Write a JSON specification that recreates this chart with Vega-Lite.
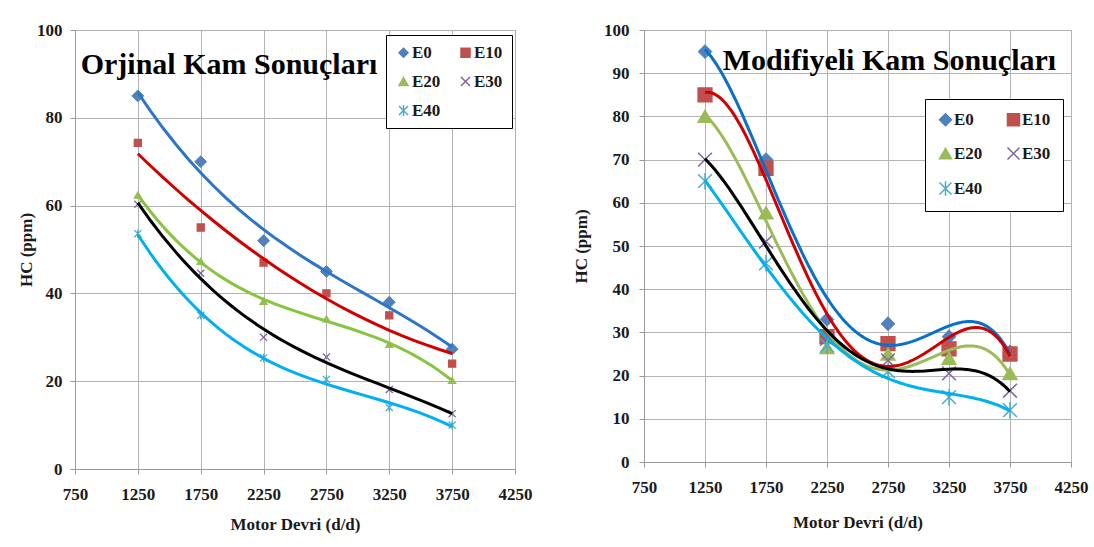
{
  "$schema": "https://vega.github.io/schema/vega-lite/v6.json",
  "background": "white",
  "padding": {"left": 17, "top": 20, "right": 5, "bottom": 5},
  "bounds": "flush",
  "spacing": 129,
  "resolve": {"scale": {"fill": "independent", "stroke": "independent", "shape": "independent"}, "legend": {"fill": "independent", "stroke": "independent", "shape": "independent"}},
  "datasets": {
    "orjinal": [
      {"s": "E0", "rpm": 1250, "hc": 85}, {"s": "E0", "rpm": 1750, "hc": 70}, {"s": "E0", "rpm": 2250, "hc": 52}, {"s": "E0", "rpm": 2750, "hc": 45}, {"s": "E0", "rpm": 3250, "hc": 38}, {"s": "E0", "rpm": 3750, "hc": 27.3},
      {"s": "E10", "rpm": 1250, "hc": 74.3}, {"s": "E10", "rpm": 1750, "hc": 55}, {"s": "E10", "rpm": 2250, "hc": 47}, {"s": "E10", "rpm": 2750, "hc": 40}, {"s": "E10", "rpm": 3250, "hc": 35}, {"s": "E10", "rpm": 3750, "hc": 24},
      {"s": "E20", "rpm": 1250, "hc": 62.4}, {"s": "E20", "rpm": 1750, "hc": 47.3}, {"s": "E20", "rpm": 2250, "hc": 38.2}, {"s": "E20", "rpm": 2750, "hc": 34.2}, {"s": "E20", "rpm": 3250, "hc": 28.4}, {"s": "E20", "rpm": 3750, "hc": 20.2},
      {"s": "E30", "rpm": 1250, "hc": 60.3}, {"s": "E30", "rpm": 1750, "hc": 44.6}, {"s": "E30", "rpm": 2250, "hc": 30}, {"s": "E30", "rpm": 2750, "hc": 25.5}, {"s": "E30", "rpm": 3250, "hc": 18.1}, {"s": "E30", "rpm": 3750, "hc": 12.6},
      {"s": "E40", "rpm": 1250, "hc": 53.6}, {"s": "E40", "rpm": 1750, "hc": 35}, {"s": "E40", "rpm": 2250, "hc": 25.3}, {"s": "E40", "rpm": 2750, "hc": 20.4}, {"s": "E40", "rpm": 3250, "hc": 14}, {"s": "E40", "rpm": 3750, "hc": 10}
    ],
    "modifiye": [
      {"s": "E0", "rpm": 1250, "hc": 95}, {"s": "E0", "rpm": 1750, "hc": 70}, {"s": "E0", "rpm": 2250, "hc": 33}, {"s": "E0", "rpm": 2750, "hc": 32}, {"s": "E0", "rpm": 3250, "hc": 29}, {"s": "E0", "rpm": 3750, "hc": 25.5},
      {"s": "E10", "rpm": 1250, "hc": 85}, {"s": "E10", "rpm": 1750, "hc": 68}, {"s": "E10", "rpm": 2250, "hc": 29}, {"s": "E10", "rpm": 2750, "hc": 27.4}, {"s": "E10", "rpm": 3250, "hc": 26.2}, {"s": "E10", "rpm": 3750, "hc": 25},
      {"s": "E20", "rpm": 1250, "hc": 80}, {"s": "E20", "rpm": 1750, "hc": 57.7}, {"s": "E20", "rpm": 2250, "hc": 26.5}, {"s": "E20", "rpm": 2750, "hc": 25}, {"s": "E20", "rpm": 3250, "hc": 24}, {"s": "E20", "rpm": 3750, "hc": 20.5},
      {"s": "E30", "rpm": 1250, "hc": 70}, {"s": "E30", "rpm": 1750, "hc": 51}, {"s": "E30", "rpm": 2250, "hc": 28.5}, {"s": "E30", "rpm": 2750, "hc": 23.5}, {"s": "E30", "rpm": 3250, "hc": 20.5}, {"s": "E30", "rpm": 3750, "hc": 16.5},
      {"s": "E40", "rpm": 1250, "hc": 65}, {"s": "E40", "rpm": 1750, "hc": 46}, {"s": "E40", "rpm": 2250, "hc": 27}, {"s": "E40", "rpm": 2750, "hc": 21}, {"s": "E40", "rpm": 3250, "hc": 15}, {"s": "E40", "rpm": 3750, "hc": 12}
    ],
    "title_left": [{"t": "Orjinal Kam Sonuçları", "rpm": 1975, "hc": 90}],
    "title_right": [{"t": "Modifiyeli Kam Sonuçları", "rpm": 2762, "hc": 90.7}]
  },
  "config": {
    "view": {"stroke": "#b3b3b3", "strokeWidth": 1},
    "axis": {
      "labelFont": "Liberation Serif", "labelFontWeight": "bold", "labelFontSize": 17, "labelColor": "#1a1a1a", "labelFlush": false,
      "titleFont": "Liberation Serif", "titleFontWeight": "bold", "titleFontSize": 17, "titleColor": "#1a1a1a",
      "gridColor": "#b3b3b3", "gridOpacity": 1, "gridWidth": 1,
      "domainColor": "#9a9a9a", "tickColor": "#9a9a9a", "tickSize": 5
    },
    "legend": {
      "orient": "none", "columns": 2, "direction": "horizontal", "title": null, "strokeColor": "black", "fillColor": "white",
      "labelFont": "Liberation Serif", "labelFontWeight": "bold", "labelFontSize": 17, "labelColor": "#1a1a1a",
      "symbolStrokeWidth": 1.5, "labelOffset": 0
    }
  },
  "hconcat": [
    {
      "width": 440,
      "height": 439,
      "data": {"name": "orjinal"},
      "encoding": {
        "x": {"field": "rpm", "type": "quantitative", "scale": {"domain": [750, 4250], "nice": false, "zero": false},
              "axis": {"title": "Motor Devri (d/d)", "values": [750, 1250, 1750, 2250, 2750, 3250, 3750, 4250], "format": "d", "labelPadding": 12, "titlePadding": 14}},
        "y": {"field": "hc", "type": "quantitative", "scale": {"domain": [0, 100], "nice": false},
              "axis": {"title": "HC (ppm)", "values": [0, 20, 40, 60, 80, 100], "labelPadding": 8, "titlePadding": 1}}
      },
      "layer": [
        {
          "transform": [{"filter": "datum.s == 'E0'"}],
          "mark": {"type": "point", "opacity": 1, "strokeWidth": 1, "size": 140},
          "encoding": {
            "fill": {"field": "s", "type": "nominal", "scale": {"domain": ["E0", "E10", "E20", "E30", "E40"], "range": ["#4f81bd", "#c0504d", "#9bbb59", "transparent", "transparent"]},
                     "legend": {"legendX": 311, "legendY": 5, "padding": 9, "rowPadding": 11, "columnPadding": 16, "symbolSize": 81}},
            "stroke": {"field": "s", "type": "nominal", "scale": {"domain": ["E0", "E10", "E20", "E30", "E40"], "range": ["#4f81bd", "#c0504d", "#9bbb59", "#8064a2", "#4bacc6"]},
                       "legend": {"legendX": 311, "legendY": 5, "padding": 9, "rowPadding": 11, "columnPadding": 16, "symbolSize": 81}},
            "shape": {"field": "s", "type": "nominal", "scale": {"domain": ["E0", "E10", "E20", "E30", "E40"], "range": ["diamond", "square", "triangle-up", "M-1,-1L1,1M-1,1L1,-1", "M-1,-1L1,1M-1,1L1,-1M0,-1.2L0,1.2"]},
                      "legend": {"legendX": 311, "legendY": 5, "padding": 9, "rowPadding": 11, "columnPadding": 16, "symbolSize": 81}}
          }
        },
        {
          "transform": [{"filter": "datum.s != 'E0'"}],
          "mark": {"type": "point", "opacity": 1, "strokeWidth": 1.3, "size": 50},
          "encoding": {
            "fill": {"field": "s", "type": "nominal", "scale": {"domain": ["E0", "E10", "E20", "E30", "E40"], "range": ["#4f81bd", "#c0504d", "#9bbb59", "transparent", "transparent"]},
                     "legend": {"legendX": 311, "legendY": 5, "padding": 9, "rowPadding": 11, "columnPadding": 16, "symbolSize": 81}},
            "stroke": {"field": "s", "type": "nominal", "scale": {"domain": ["E0", "E10", "E20", "E30", "E40"], "range": ["#4f81bd", "#c0504d", "#9bbb59", "#8064a2", "#4bacc6"]},
                       "legend": {"legendX": 311, "legendY": 5, "padding": 9, "rowPadding": 11, "columnPadding": 16, "symbolSize": 81}},
            "shape": {"field": "s", "type": "nominal", "scale": {"domain": ["E0", "E10", "E20", "E30", "E40"], "range": ["diamond", "square", "triangle-up", "M-1,-1L1,1M-1,1L1,-1", "M-1,-1L1,1M-1,1L1,-1M0,-1.2L0,1.2"]},
                      "legend": {"legendX": 311, "legendY": 5, "padding": 9, "rowPadding": 11, "columnPadding": 16, "symbolSize": 81}}
          }
        },
        {
          "transform": [{"filter": "datum.s == 'E0'"}, {"regression": "hc", "on": "rpm", "method": "poly", "order": 3, "extent": [1250, 3750]}],
          "mark": {"type": "line", "strokeWidth": 3, "color": "#2e75c9"}
        },
        {
          "transform": [{"filter": "datum.s == 'E10'"}, {"regression": "hc", "on": "rpm", "method": "poly", "order": 2, "extent": [1250, 3750]}],
          "mark": {"type": "line", "strokeWidth": 3, "color": "#d00000"}
        },
        {
          "transform": [{"filter": "datum.s == 'E20'"}, {"regression": "hc", "on": "rpm", "method": "poly", "order": 3, "extent": [1250, 3750]}],
          "mark": {"type": "line", "strokeWidth": 3, "color": "#86c540"}
        },
        {
          "transform": [{"filter": "datum.s == 'E30'"}, {"regression": "hc", "on": "rpm", "method": "poly", "order": 3, "extent": [1250, 3750]}],
          "mark": {"type": "line", "strokeWidth": 3, "color": "#000000"}
        },
        {
          "transform": [{"filter": "datum.s == 'E40'"}, {"regression": "hc", "on": "rpm", "method": "poly", "order": 3, "extent": [1250, 3750]}],
          "mark": {"type": "line", "strokeWidth": 3, "color": "#00b0f0"}
        },
        {
          "data": {"name": "title_left"},
          "mark": {"type": "text", "font": "Liberation Serif", "fontWeight": "bold", "fontSize": 30, "align": "center", "baseline": "alphabetic", "color": "#000000"},
          "encoding": {"text": {"field": "t"}}
        }
      ]
    },
    {
      "width": 427,
      "height": 432,
      "data": {"name": "modifiye"},
      "encoding": {
        "x": {"field": "rpm", "type": "quantitative", "scale": {"domain": [750, 4250], "nice": false, "zero": false},
              "axis": {"title": "Motor Devri (d/d)", "values": [750, 1250, 1750, 2250, 2750, 3250, 3750, 4250], "format": "d", "labelPadding": 12, "titlePadding": 19}},
        "y": {"field": "hc", "type": "quantitative", "scale": {"domain": [0, 100], "nice": false},
              "axis": {"title": "HC (ppm)", "values": [0, 10, 20, 30, 40, 50, 60, 70, 80, 90, 100], "labelPadding": 10, "titlePadding": 13}}
      },
      "layer": [
        {
          "transform": [{"filter": "datum.s == 'E0'"}],
          "mark": {"type": "point", "opacity": 1, "strokeWidth": 1, "size": 190},
          "encoding": {
            "fill": {"field": "s", "type": "nominal", "scale": {"domain": ["E0", "E10", "E20", "E30", "E40"], "range": ["#4f81bd", "#c0504d", "#9bbb59", "transparent", "transparent"]},
                     "legend": {"legendX": 281, "legendY": 69, "padding": 12, "rowPadding": 15, "columnPadding": 21, "symbolSize": 144}},
            "stroke": {"field": "s", "type": "nominal", "scale": {"domain": ["E0", "E10", "E20", "E30", "E40"], "range": ["#4f81bd", "#c0504d", "#9bbb59", "#8064a2", "#4bacc6"]},
                       "legend": {"legendX": 281, "legendY": 69, "padding": 12, "rowPadding": 15, "columnPadding": 21, "symbolSize": 144}},
            "shape": {"field": "s", "type": "nominal", "scale": {"domain": ["E0", "E10", "E20", "E30", "E40"], "range": ["diamond", "square", "triangle-up", "M-1,-1L1,1M-1,1L1,-1", "M-1,-1L1,1M-1,1L1,-1M0,-1.2L0,1.2"]},
                      "legend": {"legendX": 281, "legendY": 69, "padding": 12, "rowPadding": 15, "columnPadding": 21, "symbolSize": 144}}
          }
        },
        {
          "transform": [{"filter": "datum.s != 'E0'"}],
          "mark": {"type": "point", "opacity": 1, "strokeWidth": 1.5, "size": 190},
          "encoding": {
            "fill": {"field": "s", "type": "nominal", "scale": {"domain": ["E0", "E10", "E20", "E30", "E40"], "range": ["#4f81bd", "#c0504d", "#9bbb59", "transparent", "transparent"]},
                     "legend": {"legendX": 281, "legendY": 69, "padding": 12, "rowPadding": 15, "columnPadding": 21, "symbolSize": 144}},
            "stroke": {"field": "s", "type": "nominal", "scale": {"domain": ["E0", "E10", "E20", "E30", "E40"], "range": ["#4f81bd", "#c0504d", "#9bbb59", "#8064a2", "#4bacc6"]},
                       "legend": {"legendX": 281, "legendY": 69, "padding": 12, "rowPadding": 15, "columnPadding": 21, "symbolSize": 144}},
            "shape": {"field": "s", "type": "nominal", "scale": {"domain": ["E0", "E10", "E20", "E30", "E40"], "range": ["diamond", "square", "triangle-up", "M-1,-1L1,1M-1,1L1,-1", "M-1,-1L1,1M-1,1L1,-1M0,-1.2L0,1.2"]},
                      "legend": {"legendX": 281, "legendY": 69, "padding": 12, "rowPadding": 15, "columnPadding": 21, "symbolSize": 144}}
          }
        },
        {
          "transform": [{"filter": "datum.s == 'E0'"}, {"regression": "hc", "on": "rpm", "method": "poly", "order": 4, "extent": [1250, 3750]}],
          "mark": {"type": "line", "strokeWidth": 3, "color": "#0a70c8"}
        },
        {
          "transform": [{"filter": "datum.s == 'E10'"}, {"regression": "hc", "on": "rpm", "method": "poly", "order": 4, "extent": [1250, 3750]}],
          "mark": {"type": "line", "strokeWidth": 3, "color": "#d00000"}
        },
        {
          "transform": [{"filter": "datum.s == 'E20'"}, {"regression": "hc", "on": "rpm", "method": "poly", "order": 4, "extent": [1250, 3750]}],
          "mark": {"type": "line", "strokeWidth": 3, "color": "#9bbb59"}
        },
        {
          "transform": [{"filter": "datum.s == 'E30'"}, {"regression": "hc", "on": "rpm", "method": "poly", "order": 4, "extent": [1250, 3750]}],
          "mark": {"type": "line", "strokeWidth": 3, "color": "#000000"}
        },
        {
          "transform": [{"filter": "datum.s == 'E40'"}, {"regression": "hc", "on": "rpm", "method": "poly", "order": 4, "extent": [1250, 3750]}],
          "mark": {"type": "line", "strokeWidth": 3, "color": "#00b0f0"}
        },
        {
          "data": {"name": "title_right"},
          "mark": {"type": "text", "font": "Liberation Serif", "fontWeight": "bold", "fontSize": 30, "align": "center", "baseline": "alphabetic", "color": "#000000"},
          "encoding": {"text": {"field": "t"}}
        }
      ]
    }
  ]
}
